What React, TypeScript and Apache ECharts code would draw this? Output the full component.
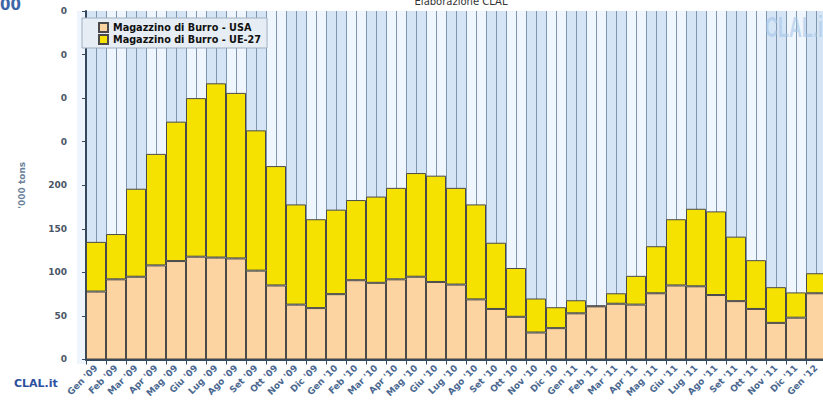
import React, { useEffect, useRef } from "react";
import * as echarts from "echarts";

const categories = [
  "Gen '09", "Feb '09", "Mar '09", "Apr '09", "Mag '09", "Giu '09", "Lug '09", "Ago '09", "Set '09", "Ott '09", "Nov '09", "Dic '09",
  "Gen '10", "Feb '10", "Mar '10", "Apr '10", "Mag '10", "Giu '10", "Lug '10", "Ago '10", "Set '10", "Ott '10", "Nov '10", "Dic '10",
  "Gen '11", "Feb '11", "Mar '11", "Apr '11", "Mag '11", "Giu '11", "Lug '11", "Ago '11", "Set '11", "Ott '11", "Nov '11", "Dic '11",
  "Gen '12",
];

const usaValues = [
  78, 92, 95, 108, 113, 118, 117, 116, 102, 85, 63, 59,
  75, 91, 88, 92, 95, 89, 86, 69, 58, 49, 31, 36,
  53, 61, 64, 63, 76, 85, 84, 74, 67, 58, 42, 48,
  76,
];

const ueValues = [
  57, 52, 101, 128, 160, 182, 200, 190, 161, 137, 115, 102,
  97, 92, 99, 105, 119, 122, 111, 109, 76, 56, 39, 24,
  15, 1, 12, 33, 54, 76, 89, 96, 74, 56, 41, 29,
  23,
];

const yTicks = { min: 0, max: 400, interval: 50 };

const seriesNames = ["Magazzino di Burro - USA", "Magazzino di Burro - UE-27"];

export default function App() {
  const ref = useRef<HTMLDivElement>(null);
  useEffect(() => {
    if (!ref.current) return;
    const chart = echarts.init(ref.current, null, { renderer: "svg" });
    const font = "DejaVu Sans, Verdana, sans-serif";
    chart.setOption({
      animation: false,
      backgroundColor: "#ffffff",
      grid: { left: 86, top: 11, width: 740, height: 353 },
      legend: {
        orient: "vertical",
        left: 82,
        top: 18,
        padding: [4, 6, 3, 16],
        itemWidth: 9,
        itemHeight: 9,
        itemGap: 1,
        backgroundColor: "#e6edf4",
        borderColor: "#9fb0c2",
        borderWidth: 1,
        data: seriesNames.map((n) => ({ name: n, icon: "rect" })),
        textStyle: { fontFamily: font, fontWeight: "bold", fontSize: 9.7, color: "#111" },
      },
      xAxis: [
        {
          type: "category",
          data: categories,
          boundaryGap: true,
          axisLine: { lineStyle: { color: "#34495e", width: 2 } },
          axisTick: { show: true, length: 5, interval: 0, lineStyle: { color: "#34495e" } },
          axisLabel: {
            interval: 0,
            rotate: 45,
            margin: 7,
            fontFamily: font,
            fontWeight: "bold",
            fontSize: 9,
            color: "#4a6890",
          },
          splitLine: { show: false },
          splitArea: { show: true, interval: 0, areaStyle: { color: ["#d5e5f6", "#eff6fd"] } },
        },
        {
          type: "value",
          min: 0,
          max: 74,
          interval: 1,
          position: "bottom",
          axisLine: { show: false },
          axisTick: { show: false },
          axisLabel: { show: false },
          splitLine: { show: true, lineStyle: { color: "#7f97ae", width: 1 } },
        },
      ],
      yAxis: {
        type: "value",
        min: yTicks.min,
        max: yTicks.max,
        interval: yTicks.interval,
        offset: 10,
        name: "'000 tons",
        nameLocation: "middle",
        nameGap: 50,
        nameTextStyle: { fontFamily: font, fontWeight: "bold", fontSize: 9, color: "#6a7f99" },
        axisLine: { show: true, lineStyle: { color: "#34495e", width: 2 } },
        axisTick: { show: true, length: 4, lineStyle: { color: "#34495e" } },
        axisLabel: {
          margin: 9,
          fontFamily: font,
          fontWeight: "bold",
          fontSize: 9,
          color: "#4a5566",
          formatter: (v: number) => (v > 200 ? "0" : String(v)),
        },
        splitLine: { show: true, lineStyle: { color: "#6c87a2", width: 1 } },
      },
      series: [
        {
          name: seriesNames[0],
          type: "bar",
          stack: "burro",
          data: usaValues,
          barCategoryGap: "0%",
          itemStyle: { color: "#fcd4a2", borderColor: "#4a4a4a", borderWidth: 1 },
        },
        {
          name: seriesNames[1],
          type: "bar",
          stack: "burro",
          data: ueValues,
          barCategoryGap: "0%",
          itemStyle: { color: "#f5e200", borderColor: "#4a4a4a", borderWidth: 1 },
        },
      ],
      graphic: [
        {
          type: "rect",
          shape: { x: 77, y: 11, width: 9, height: 353 },
          style: { fill: "#eef5fc" },
          silent: true,
        },
        {
          type: "text",
          left: 0,
          top: -3,
          style: { text: "00", fontFamily: font, fontWeight: "bold", fontSize: 15, fill: "#3d67a8" },
        },
        {
          type: "text",
          x: 461,
          y: -4,
          style: {
            text: "Elaborazione CLAL",
            fontFamily: font,
            fontSize: 10,
            fill: "#333333",
            align: "center",
            verticalAlign: "top",
          },
        },
        {
          type: "text",
          x: 765,
          y: 12,
          scaleX: 0.6,
          z: 10,
          style: {
            text: "CLAL.it",
            fontFamily: "Liberation Sans, Arial, sans-serif",
            fontWeight: "bold",
            fontSize: 30,
            fill: "rgba(165,198,232,0.6)",
          },
        },
        {
          type: "text",
          x: 14,
          y: 378,
          style: { text: "CLAL.it", fontFamily: font, fontWeight: 900, fontSize: 11, fill: "#2b4f9e" },
        },
      ],
    });
    return () => chart.dispose();
  }, []);
  return (
    <div style={{ position: "absolute", left: 0, top: 0, width: 823, height: 400, overflow: "hidden" }}>
      <div ref={ref} style={{ width: 834, height: 400 }} />
    </div>
  );
}
